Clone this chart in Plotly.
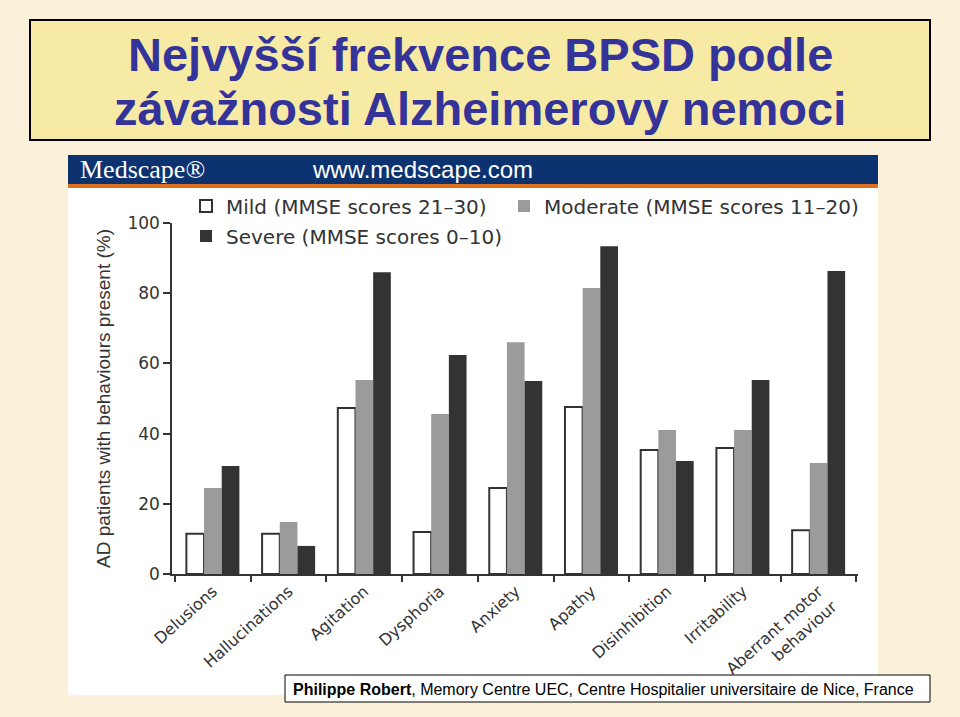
import plotly.graph_objects as go

# behaviour categories on the x axis
categories = ['Delusions', 'Hallucinations', 'Agitation', 'Dysphoria', 'Anxiety',
              'Apathy', 'Disinhibition', 'Irritability', 'Aberrant motor<br>behaviour']

# % of AD patients with the behaviour, by MMSE severity group
mild = [11.5, 11.5, 47.3, 12.0, 24.5, 47.6, 35.3, 35.9, 12.5]
moderate = [24.5, 14.8, 55.3, 45.6, 66.0, 81.5, 41.0, 41.0, 31.6]
severe = [30.8, 8.0, 86.0, 62.4, 55.0, 93.4, 32.2, 55.3, 86.3]

y_ticks = [0, 20, 40, 60, 80, 100]

title_lines = ['Nejvyšší frekvence BPSD podle', 'závažnosti Alzheimerovy nemoci']

# plot area in pixels
L, R, T, B = 172, 858, 223, 574
W, H = 960, 717


def px(x):
    return (x - L) / (R - L)


def py(y):
    return (B - y) / (B - T)


fig = go.Figure()

fig.add_trace(go.Bar(
    x=categories, y=mild, name='Mild (MMSE scores 21\u201330)',
    marker=dict(color='white', line=dict(color='#333333', width=2)),
    legend='legend', showlegend=True
))
fig.add_trace(go.Bar(
    x=categories, y=moderate, name='Moderate (MMSE scores 11\u201320)',
    marker=dict(color='#9b9b9b', line=dict(color='#9b9b9b', width=0)),
    legend='legend3', showlegend=True
))
fig.add_trace(go.Bar(
    x=categories, y=severe, name='Severe (MMSE scores 0\u201310)',
    marker=dict(color='#333333', line=dict(color='#333333', width=0)),
    legend='legend2', showlegend=True
))

shapes = [
    # slide title box
    dict(type='rect', xref='paper', yref='paper', x0=px(30), x1=px(930), y0=py(140), y1=py(20),
         fillcolor='#f6eaa4', line=dict(color='black', width=2), layer='below'),
    # white figure panel
    dict(type='rect', xref='paper', yref='paper', x0=px(68), x1=px(878), y0=py(695), y1=py(155),
         fillcolor='white', line=dict(width=0), layer='below'),
    # Medscape header bar
    dict(type='rect', xref='paper', yref='paper', x0=px(68), x1=px(878), y0=py(184), y1=py(155),
         fillcolor='#0d3270', line=dict(width=0), layer='below'),
    dict(type='rect', xref='paper', yref='paper', x0=px(68), x1=px(878), y0=py(188), y1=py(184),
         fillcolor='#e0701e', line=dict(width=0), layer='below'),
    # footer box
    dict(type='rect', xref='paper', yref='paper', x0=px(285), x1=px(930), y0=py(702), y1=py(675),
         fillcolor='white', line=dict(color='black', width=1), layer='above'),
]

title_font = dict(family='Liberation Sans, Arial', size=47, color='#333399', weight='bold')

annotations = [
    dict(text=title_lines[0], xref='paper', yref='paper', x=px(480), y=py(55),
         xanchor='center', yanchor='middle', showarrow=False, font=title_font),
    dict(text=title_lines[1], xref='paper', yref='paper', x=px(480), y=py(108),
         xanchor='center', yanchor='middle', showarrow=False, font=title_font),
    dict(text='Medscape\u00ae', xref='paper', yref='paper', x=px(78), y=py(170),
         xanchor='left', yanchor='middle', showarrow=False,
         font=dict(family='Liberation Serif, Times New Roman', size=26, color='white')),
    dict(text='www.medscape.com', xref='paper', yref='paper', x=px(310), y=py(170),
         xanchor='left', yanchor='middle', showarrow=False,
         font=dict(family='Liberation Sans, Arial', size=24, color='white')),
    dict(text='<b>Philippe Robert</b>, Memory Centre UEC, Centre Hospitalier universitaire de Nice, France',
         xref='paper', yref='paper', x=px(603), y=py(689), xanchor='center', yanchor='middle',
         showarrow=False, font=dict(family='Liberation Sans, Arial', size=16, color='black')),
]

legend_style = dict(orientation='h', xanchor='left', yanchor='middle',
                    bgcolor='rgba(0,0,0,0)', font=dict(size=20, color='#333333'))

fig.update_layout(
    width=W, height=H,
    margin=dict(l=L, r=W - R, t=T, b=H - B, pad=0),
    paper_bgcolor='#fbf1da',
    plot_bgcolor='white',
    showlegend=True,
    barmode='group',
    bargap=0.3,
    bargroupgap=0,
    shapes=shapes,
    annotations=annotations,
    font=dict(family='DejaVu Sans, Liberation Sans, Arial', color='#333333'),
    legend=dict(x=px(186), y=py(206), **legend_style),
    legend3=dict(x=px(504), y=py(206), **legend_style),
    legend2=dict(x=px(186), y=py(236), **legend_style),
    xaxis=dict(
        range=[-0.54, 8.52], showline=True, linecolor='#333333', linewidth=1.5,
        ticks='outside', tickson='boundaries', ticklen=6, tickcolor='#333333', tickwidth=1.5,
        tickangle=-42, tickfont=dict(size=16, color='#333333'), showgrid=False, zeroline=False,
        fixedrange=True
    ),
    yaxis=dict(
        range=[0, 100], tickvals=y_ticks, showline=True, linecolor='#333333', linewidth=1.5,
        ticks='outside', ticklen=7, tickcolor='#333333', tickwidth=1.5,
        tickfont=dict(size=17, color='#333333'), showgrid=False, zeroline=False,
        title=dict(text='AD patients with behaviours present (%)', standoff=12,
                   font=dict(family='Liberation Sans, Arial', size=19, color='#333333')),
        fixedrange=True
    ),
)

fig.write_html('out.html', config={'displayModeBar': False},
               post_script="document.body.style.margin='0px';"
                           "document.body.style.background='#fbf1da';")
